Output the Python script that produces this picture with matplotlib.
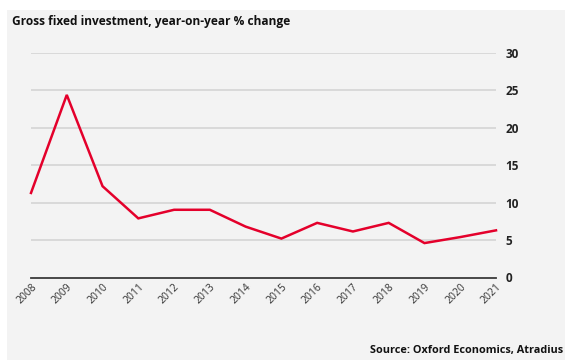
import matplotlib.pyplot as plt
from matplotlib.patches import Rectangle

years = list(range(2008, 2022))
growth = [11.3, 24.4, 12.2, 7.9, 9.05, 9.05, 6.8, 5.2, 7.3, 6.15, 7.3, 4.6, 5.4, 6.3]
yticks = [0, 5, 10, 15, 20, 25, 30]

title = "Gross fixed investment, year-on-year % change"
source = "Source: Oxford Economics, Atradius"


def main():
    plt.rcParams['font.family'] = ['Open Sans', 'DejaVu Sans']

    W, H = 565, 360
    fig = plt.figure(figsize=(W / 100, H / 100), dpi=100, facecolor="white")

    # grey panel behind everything
    fig.patches.append(Rectangle((7 / W, 0), 1, 1 - 10 / H, transform=fig.transFigure,
                                 facecolor="#f3f3f3", edgecolor="none", zorder=-10))

    ax = fig.add_axes([31 / W, 1 - 277.5 / H, (496 - 31) / W, (277.5 - 53) / H])
    ax.set_facecolor("none")

    ax.plot(years, growth, color="#e4002b", lw=1.8, solid_joinstyle="miter", zorder=3,
            clip_on=False)

    ax.set_xlim(years[0], years[-1])
    ax.set_ylim(0, 30)
    ax.set_yticks(yticks)
    for v in yticks[1:]:
        ax.axhline(v, color="#d4d4d4", lw=1.2, zorder=1)
    ax.axhline(0, color="#3a3a3a", lw=1.3, zorder=2, clip_on=False)

    for s in ax.spines.values():
        s.set_visible(False)

    ax.yaxis.tick_right()
    ax.tick_params(axis="y", length=0, pad=7, labelsize=8.5, labelcolor="#222222")
    ax.tick_params(axis="x", length=0, pad=3, labelsize=7.5, labelcolor="#333333")
    ax.set_xticks(years)
    ax.set_xticklabels([str(y) for y in years], rotation=45, ha="right",
                       rotation_mode="anchor")
    for lbl in ax.get_yticklabels():
        lbl.set_fontweight("bold")

    fig.text(12 / W, 1 - 22 / H, title, fontsize=8.6, fontweight="bold",
             va="center", ha="left", color="#111111")
    fig.text(1 - 2 / W, 1 - 351 / H, source, fontsize=7.8, fontweight="bold",
             va="center", ha="right", color="#111111")

    fig.savefig("out.png", dpi=100, facecolor="white")


if __name__ == "__main__":
    main()
